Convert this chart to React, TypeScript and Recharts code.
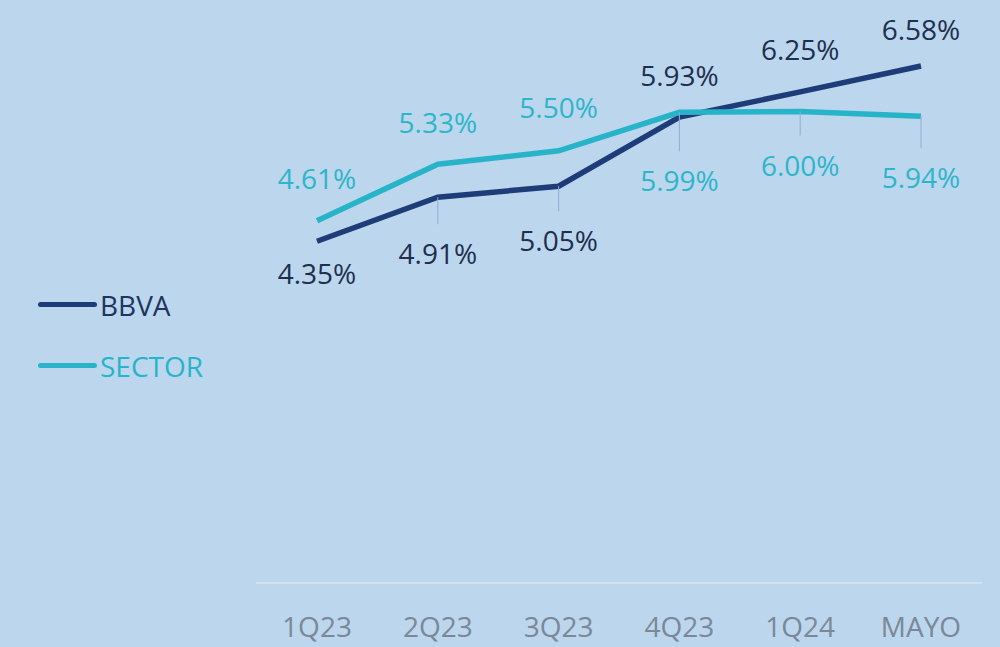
import { LineChart, Line, XAxis, YAxis, Legend, LabelList } from "recharts";

const periods = ["1Q23", "2Q23", "3Q23", "4Q23", "1Q24", "MAYO"];
const bbva = [4.35, 4.91, 5.05, 5.93, 6.25, 6.58];
const sector = [4.61, 5.33, 5.5, 5.99, 6.0, 5.94];

// where each data label sits relative to its point (px, + = below)
const bbvaLabelDy = [33, 57, 55, -41, -42, -36];
const sectorLabelDy = [-42, -41, -43, 69, 54, 62];

const BG = "#bcd6ee";
const NAVY = "#1d3c78";
const CYAN = "#27b4c8";
const FONT = "'Open Sans', sans-serif";

const data = periods.map((p, i) => ({ period: p, BBVA: bbva[i], SECTOR: sector[i] }));

function makeLabel(offsets: number[], color: string) {
	return (props: any) => {
		const { x, y, value, index } = props;
		const dy = offsets[index];
		const cy = y + dy;
		const leader = Math.abs(dy) > 45;
		return (
			<g key={`lbl-${color}-${index}`}>
				{leader && (
					<line
						x1={x}
						y1={y}
						x2={x}
						y2={dy > 0 ? cy - 30 : cy + 30}
						stroke="#8eaed0"
						strokeWidth={1}
					/>
				)}
				<text
					x={x}
					y={cy}
					dy="0.36em"
					textAnchor="middle"
					fill={color}
					fontFamily={FONT}
					fontSize={28}
				>
					{`${Number(value).toFixed(2)}%`}
				</text>
			</g>
		);
	};
}

function LegendBox({ payload }: any) {
	return (
		<div style={{ fontFamily: FONT, fontSize: 28 }}>
			{(payload || []).map((item: any) => (
				<div key={item.value} style={{ display: "flex", alignItems: "center", height: 61 }}>
					<div style={{ width: 59, height: 5, borderRadius: 3, background: item.color }} />
					<span style={{ marginLeft: 3, color: item.value === "BBVA" ? "#1e3560" : CYAN }}>{item.value}</span>
				</div>
			))}
		</div>
	);
}

export default function App() {
	return (
		<div style={{ position: "absolute", left: 0, top: 0, width: 1000, height: 647, background: BG, overflow: "hidden" }}>
			<LineChart width={1000} height={647} data={data} margin={{ top: 33, right: 18, bottom: 0, left: 256 }}>
				<XAxis
					dataKey="period"
					height={64}
					padding={{ left: 61, right: 61 }}
					axisLine={{ stroke: "#d3e2f0", strokeWidth: 2 }}
					tickLine={false}
					tickSize={0}
					tickMargin={34}
					tick={{ fill: "#7a8897", fontSize: 28, fontFamily: FONT }}
					interval={0}
				/>
				<YAxis hide domain={[0, 7]} />
				<Legend
					layout="vertical"
					align="center"
					verticalAlign="middle"
					wrapperStyle={{ left: 38, top: 274, width: 200 }}
					content={<LegendBox />}
				/>
				<Line
					dataKey="BBVA"
					stroke={NAVY}
					strokeWidth={5.5}
					dot={false}
					activeDot={false}
					isAnimationActive={false}
				>
					<LabelList dataKey="BBVA" content={makeLabel(bbvaLabelDy, "#1e2f4d")} />
				</Line>
				<Line
					dataKey="SECTOR"
					stroke={CYAN}
					strokeWidth={5.5}
					dot={false}
					activeDot={false}
					isAnimationActive={false}
				>
					<LabelList dataKey="SECTOR" content={makeLabel(sectorLabelDy, "#2db5c9")} />
				</Line>
			</LineChart>
		</div>
	);
}
